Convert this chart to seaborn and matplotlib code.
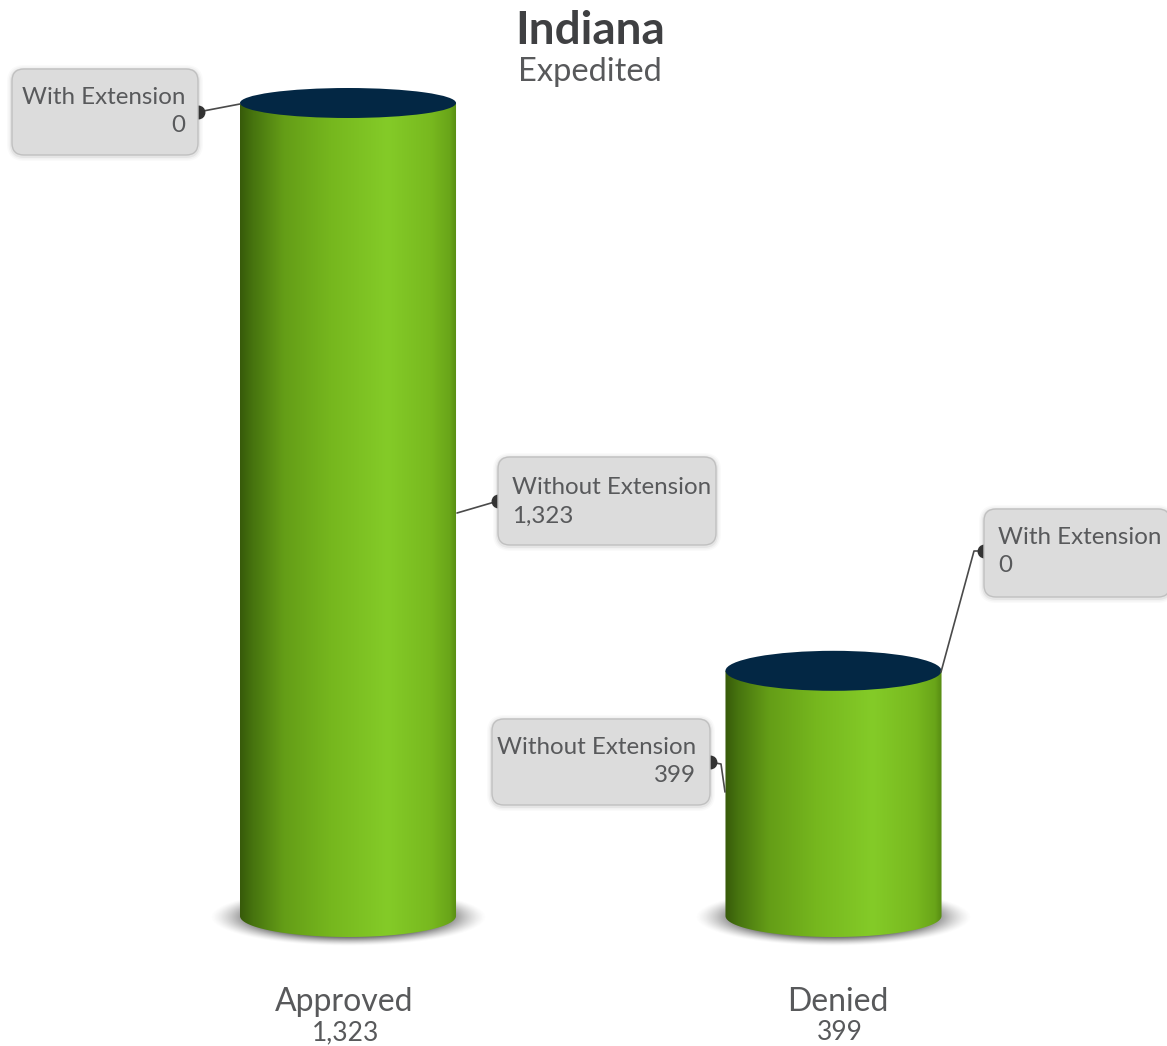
import numpy as np
import pandas as pd
import matplotlib
matplotlib.use("Agg")
import matplotlib.pyplot as plt
import seaborn as sns
from matplotlib.colors import LinearSegmentedColormap
from matplotlib.patches import Ellipse, FancyBboxPatch, PathPatch
from matplotlib.path import Path

categories = ["Approved", "Denied"]
totals = [1323, 399]
total_labels = ["1,323", "399"]
without_extension = [1323, 399]
with_extension = [0, 0]

W, H = 1167, 1046
BASELINE_PX = 916
PX_PER_UNIT = 813 / 1323
PX_PER_CAT = 485.5
FIRST_BAR_PX = 348
TEXT = "#58595b"

sns.set_theme(style="white")
plt.rcParams["font.family"] = ["Lato", "DejaVu Sans"]

fig = plt.figure(figsize=(W / 100, H / 100), dpi=100, facecolor="white")
ax = fig.add_axes([0, 0, 1, 1])

df = pd.DataFrame({"status": categories, "total": totals})
sns.barplot(data=df, x="status", y="total", width=0.445, color="#76b81d", ax=ax, zorder=2)
ax.set_xlim(-FIRST_BAR_PX / PX_PER_CAT, (W - FIRST_BAR_PX) / PX_PER_CAT)
ax.set_ylim((BASELINE_PX - H) / PX_PER_UNIT, BASELINE_PX / PX_PER_UNIT)
ax.axis("off")
xlim, ylim = ax.get_xlim(), ax.get_ylim()

green = LinearSegmentedColormap.from_list("cyl", [
    (0.0, "#375a0a"), (0.06, "#47740f"), (0.2, "#649d17"), (0.42, "#76b71e"),
    (0.68, "#84cb28"), (0.88, "#78b91f"), (0.97, "#69a519"), (1.0, "#578c12"),
])
grad = np.linspace(0, 1, 256).reshape(1, -1)

# soft shadow, one for each base
yy, xx = np.mgrid[-1:1:200j, -1:1:300j]
dist = np.sqrt(xx ** 2 + yy ** 2)
shadow = np.zeros(dist.shape + (4,))
shadow[..., :3] = 0.3
shadow[..., 3] = np.clip((1 - dist) / 0.3, 0, 1) ** 1.4 * 0.8

for bar in ax.patches[:len(categories)]:
    x0, bw, top = bar.get_x(), bar.get_width(), bar.get_height()
    xc = x0 + bw / 2
    rx = bw / 2
    ry_bottom = 21 / PX_PER_UNIT
    ry_top = (15 if top > 1000 else 20) / PX_PER_UNIT

    ax.imshow(shadow, extent=[xc - 0.285, xc + 0.285, -30 / PX_PER_UNIT, 28 / PX_PER_UNIT],
              aspect="auto", zorder=1, interpolation="bilinear")

    theta = np.linspace(np.pi, 2 * np.pi, 80)
    outline = np.column_stack([xc + rx * np.cos(theta), ry_bottom * np.sin(theta)])
    outline = np.vstack([outline, [x0 + bw, top], [x0, top], outline[0]])
    clip = PathPatch(Path(outline), transform=ax.transData, facecolor="none", edgecolor="none")
    ax.add_patch(clip)
    im = ax.imshow(grad, cmap=green, extent=[x0, x0 + bw, -ry_bottom, top],
                   aspect="auto", zorder=3, interpolation="bilinear")
    im.set_clip_path(clip)
    bar.set_visible(False)

    ax.add_patch(Ellipse((xc, top), bw, ry_top * 2, facecolor="#032744", edgecolor="none", zorder=4))

ax.set_xlim(xlim)
ax.set_ylim(ylim)

# overlay in image pixels for the callouts and captions
ov = fig.add_axes([0, 0, 1, 1], facecolor="none")
ov.set_xlim(0, W)
ov.set_ylim(H, 0)
ov.axis("off")


def callout(box, lines, ha, text_x, text_ys, leader):
    x0, y0, x1, y1 = box
    for grow, alpha in [(5, 0.02), (3.5, 0.03), (2, 0.05)]:
        ov.add_patch(FancyBboxPatch((x0 - grow, y0 - grow + 1), x1 - x0 + 2 * grow, y1 - y0 + 2 * grow,
                                    boxstyle=f"round,pad=0,rounding_size={12 + grow}",
                                    facecolor="black", edgecolor="none", alpha=alpha, zorder=2))
    ov.plot(*zip(*leader), color="#4a4a4a", lw=1.2, zorder=2.5)
    ov.plot(*leader[0], "o", color="#333333", ms=9, zorder=2.5)
    ov.add_patch(FancyBboxPatch((x0, y0), x1 - x0, y1 - y0,
                                boxstyle="round,pad=0,rounding_size=12",
                                facecolor="#dcdcdc", edgecolor="#c0c0c0", lw=1.0, zorder=3))
    for line, y in zip(lines, text_ys):
        ov.text(text_x, y, line, ha=ha, va="center", fontsize=17.4, color=TEXT, zorder=4)


callout((12, 69, 198, 155), ["With Extension", str(with_extension[0])], "right", 185, (98, 126),
        [(198, 112), (240, 104)])
callout((498, 457, 716, 545), ["Without Extension", f"{without_extension[0]:,}"], "left", 512, (488, 516),
        [(498, 501), (457, 513)])
callout((984, 509, 1170, 597), ["With Extension", str(with_extension[1])], "left", 998, (538, 566),
        [(984, 551), (974, 551), (941, 672)])
callout((492, 719, 710, 805), ["Without Extension", f"{without_extension[1]:,}"], "right", 696, (748, 776),
        [(710, 762), (721, 764), (725, 792)])

ov.text(590, 31, "Indiana", ha="center", va="center", fontsize=33, fontweight="bold", color="#3f4042")
ov.text(590, 72, "Expedited", ha="center", va="center", fontsize=23.5, color=TEXT)

for cx, vx, name, value in zip((344, 838), (346, 840), categories, total_labels):
    ov.text(cx, 1002, name, ha="center", va="center", fontsize=23, color=TEXT)
    ov.text(vx, 1033, value, ha="center", va="center", fontsize=19, color=TEXT)

fig.savefig("out.png", dpi=100)
